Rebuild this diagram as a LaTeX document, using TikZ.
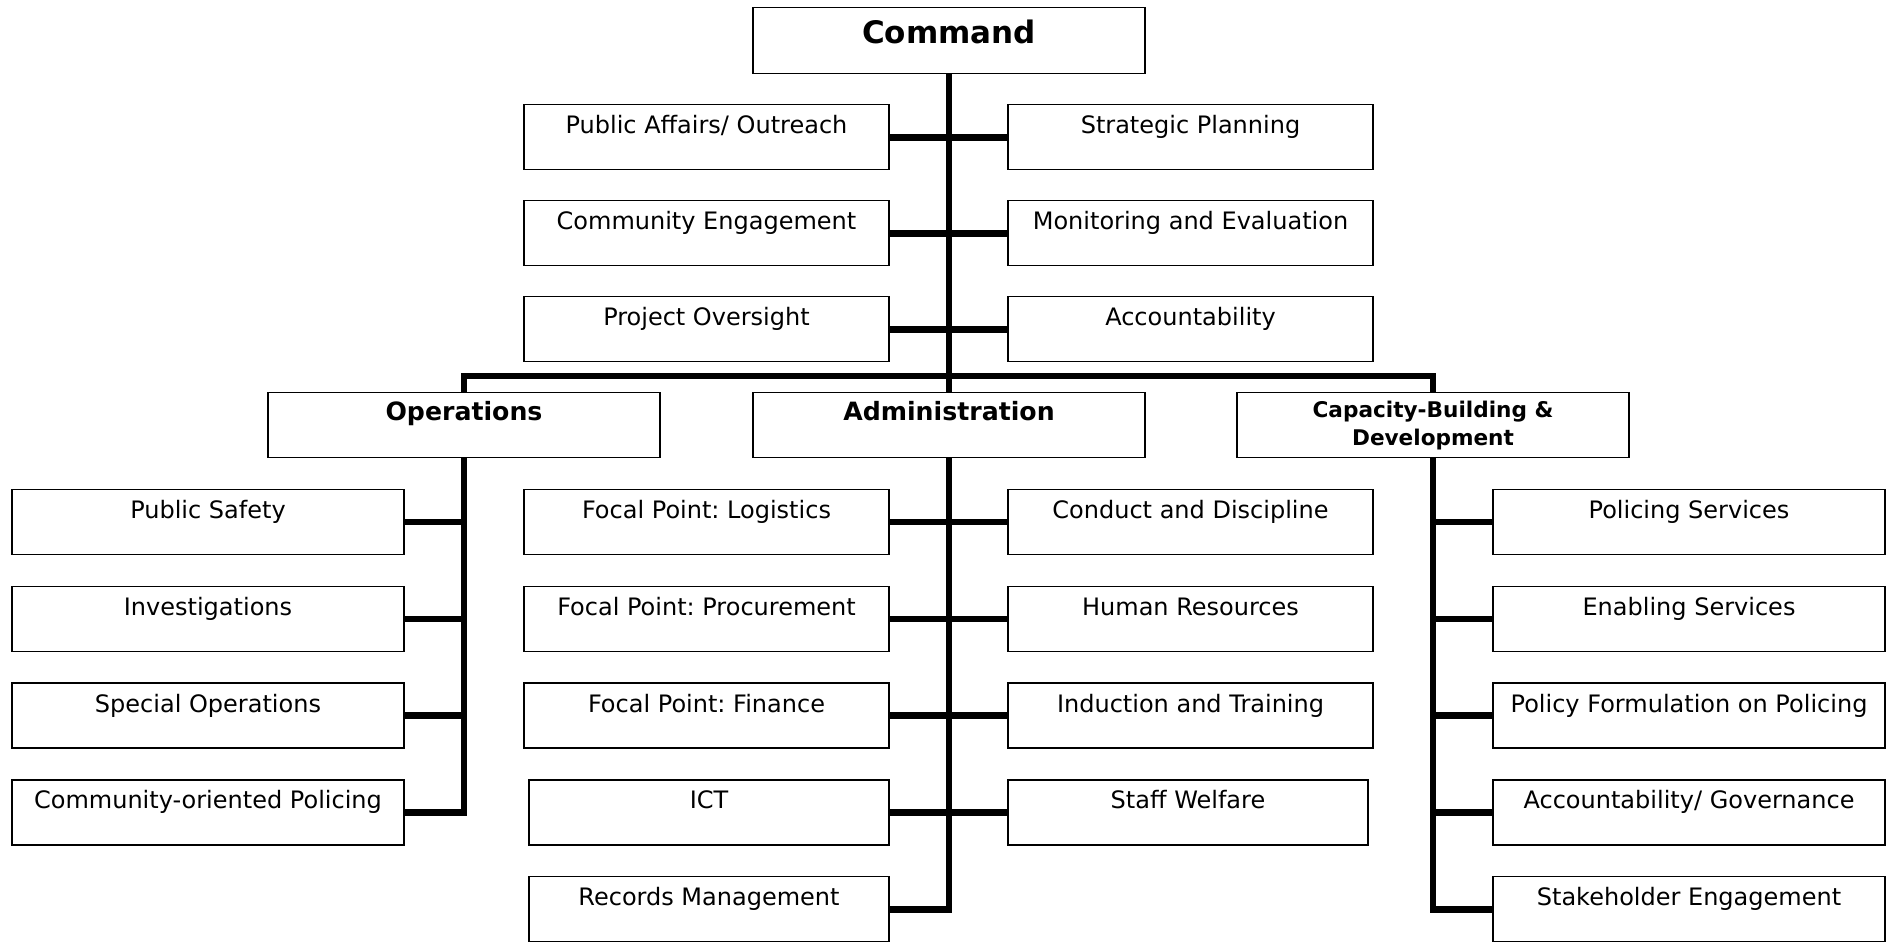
\documentclass[tikz,border=0pt]{standalone}
\usepackage{fontspec}
\setmainfont{DejaVu Sans}
\frenchspacing
\begin{document}
\begin{tikzpicture}[x=0.5pt,y=-0.5pt,
        every node/.style = {font = \fontsize{12}{14}\selectfont},
        box/.style = {draw, line width=0.7pt, anchor=north, inner sep=0pt, minimum height=32.5pt},
        unit/.style = {box, text height=14.5pt, text depth=18pt},
        head/.style = {box, minimum width=196pt, font=\bfseries\fontsize{12.6}{15}\selectfont, text height=14pt, text depth=18.5pt},
        link/.style = {line width=3.3pt}]
        \useasboundingbox (0,0) rectangle (1889,942);

        % command and its staff
        \node[box, minimum width=196pt, font=\bfseries\fontsize{15.5}{18}\selectfont, text height=18pt, text depth=15pt] (cmd) at (949,7) {Command};
        \foreach \y/\l/\r/\ltxt/\rtxt in {104/pa/sp/{Public Affairs/ Outreach}/{Strategic Planning},
                200/ce/me/{Community Engagement}/{Monitoring and Evaluation},
                296/po/acc/{Project Oversight}/{Accountability}}
        {
            \node[unit, minimum width=182.5pt] (\l) at (706.5,\y) {\ltxt};
            \node[unit, minimum width=182.5pt] (\r) at (1190.5,\y) {\rtxt};
            \draw[link] (\l.east) -- (\r.west);
        }

        % divisions
        \node[head] (ops) at (464,392) {Operations};
        \node[head] (adm) at (949,392) {Administration};
        \node[box, minimum width=196pt, align=center, font=\bfseries\fontsize{10.8}{14}\selectfont] (cap) at (1433,392) {Capacity-Building \&\\Development};
        \draw[link] (cmd.south) -- (adm.north);
        \draw[link] (ops.north) -- ++(0,-16) -| (cap.north);

        % operations
        \foreach \i/\txt in {1/Public Safety, 2/Investigations, 3/Special Operations, 4/Community-oriented Policing}
        {
            \node[unit, minimum width=196pt] (ops\i) at (208,{392+96.8*\i}) {\txt};
            \draw[link] (ops\i.east) -- (ops\i.east -| ops.south);
        }
        \draw[link] (ops.south) |- (ops4.east);

        % administration
        \foreach \i/\ltxt/\rtxt in {1/{Focal Point: Logistics}/{Conduct and Discipline},
                2/{Focal Point: Procurement}/{Human Resources},
                3/{Focal Point: Finance}/{Induction and Training}}
        {
            \node[unit, minimum width=182.5pt] (adml\i) at (706.5,{392+96.8*\i}) {\ltxt};
            \node[unit, minimum width=182.5pt] (admr\i) at (1190.5,{392+96.8*\i}) {\rtxt};
            \draw[link] (adml\i.east) -- (admr\i.west);
        }
        \node[unit, minimum width=180pt] (adml4) at (709,779.2) {ICT};
        \node[unit, minimum width=180pt] (admr4) at (1188,779.2) {Staff Welfare};
        \node[unit, minimum width=180pt] (adml5) at (709,876) {Records Management};
        \draw[link] (adml4.east) -- (admr4.west);
        \draw[link] (adm.south) |- (adml5.east);

        % capacity-building
        \foreach \i/\txt in {1/Policing Services, 2/Enabling Services, 3/Policy Formulation on Policing,
                4/{Accountability/ Governance}, 5/Stakeholder Engagement}
        {
            \node[unit, minimum width=196pt] (cap\i) at (1689,{392+96.8*\i}) {\txt};
            \draw[link] (cap\i.west) -- (cap\i.west -| cap.south);
        }
        \draw[link] (cap.south) |- (cap5.west);
    \end{tikzpicture}
\end{document}
